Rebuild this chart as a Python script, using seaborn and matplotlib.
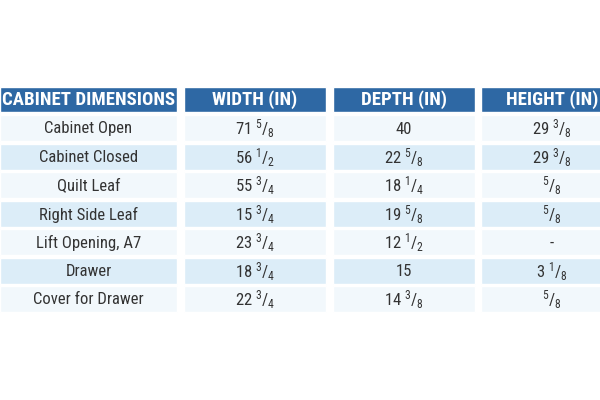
import numpy as np
import pandas as pd
import seaborn as sns
import matplotlib.pyplot as plt

# tablo verisi
headers = ["CABINET DIMENSIONS", "WIDTH (IN)", "DEPTH (IN)", "HEIGHT (IN)"]
items = ["Cabinet Open", "Cabinet Closed", "Quilt Leaf", "Right Side Leaf",
         "Lift Opening, A7", "Drawer", "Cover for Drawer"]
width_in = ["71 5/8", "56 1/2", "55 3/4", "15 3/4", "23 3/4", "18 3/4", "22 3/4"]
depth_in = ["40", "22 5/8", "18 1/4", "19 5/8", "12 1/2", "15", "14 3/8"]
height_in = ["29 3/8", "29 3/8", "5/8", "5/8", "-", "3 1/8", "5/8"]

df = pd.DataFrame({"item": items, "width": width_in, "depth": depth_in, "height": height_in})

sns.set_theme(style="white")
plt.rcParams['font.family'] = ['Roboto Condensed', 'DejaVu Sans']
plt.rcParams['font.stretch'] = 'condensed'
plt.rcParams['mathtext.fontset'] = 'custom'

HEAD_BLUE = "#2e68a4"
ROW_LIGHT = "#f2f8fc"
ROW_BLUE = "#dcedf8"
TEXT = "#333333"

col_left = [0, 184, 333, 481]
col_w = [177, 142, 142, 142]
head_y, pitch, row_h = 99.5, 28.5, 26


def frac(s):
    # "71 5/8" -> mathtext kesir
    parts = s.split(" ")
    if len(parts) == 2:
        n, d = parts[1].split("/")
        return parts[0] + r" $\mathregular{^{" + n + r"}/_{" + d + r"}}$"
    if "/" in s:
        n, d = s.split("/")
        return r"$\mathregular{^{" + n + r"}/_{" + d + r"}}$"
    return s


fig = plt.figure(figsize=(6, 4), dpi=100)
ax = fig.add_axes([0, 0, 1, 1])
ax.set_xlim(0, 600)
ax.set_ylim(400, 0)
ax.axis("off")

# baslik
for j, h in enumerate(headers):
    ax.barh(head_y, col_w[j], left=col_left[j], height=25, color=HEAD_BLUE)
    ax.text(col_left[j] + col_w[j] / 2, head_y + 0.5, h, ha="center", va="center",
            color="white", fontsize=13.5, fontweight="bold")

cols = ["item", "width", "depth", "height"]
for i, row in df.iterrows():
    yc = head_y + pitch * (i + 1)
    color = ROW_LIGHT if i % 2 == 0 else ROW_BLUE
    for j, c in enumerate(cols):
        ax.barh(yc, col_w[j], left=col_left[j], height=row_h, color=color)
        txt = row[c] if c == "item" else frac(row[c])
        ax.text(col_left[j] + col_w[j] / 2, yc + 1, txt, ha="center", va="center",
                color=TEXT, fontsize=12)

plt.savefig("out.png", dpi=100)
